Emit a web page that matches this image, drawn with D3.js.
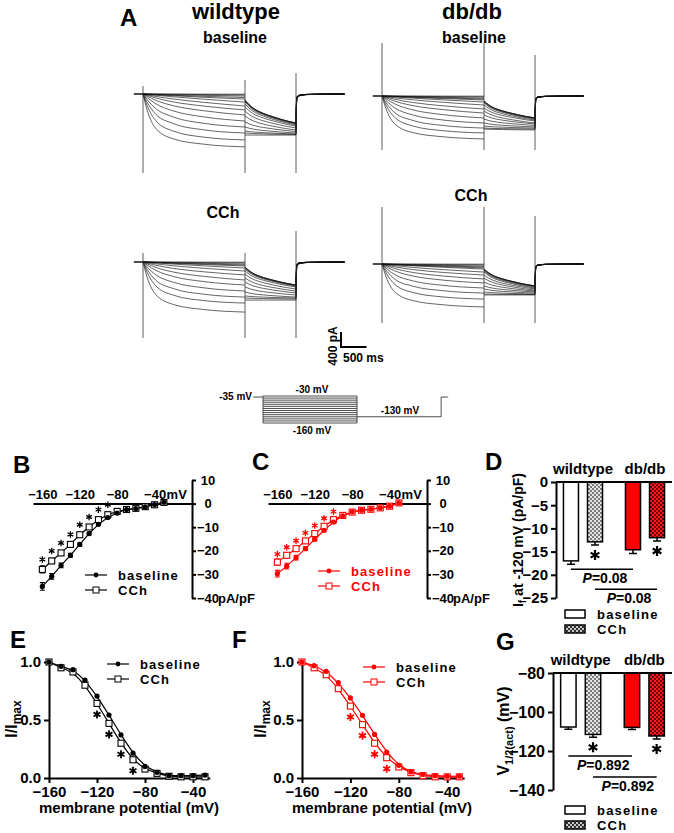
<!DOCTYPE html>
<html>
<head>
<meta charset="utf-8">
<script src="https://cdn.jsdelivr.net/npm/d3@7"></script>
<style>
  body { margin: 0; background: #fff; }
  text { font-family: "Liberation Sans", Arial, sans-serif; font-weight: bold; }
</style>
</head>
<body>
<div id="fig"></div>
<script>
const width = 674;
const height = 833;

// ---------- A: current traces (pA), one entry per sweep ----------
const sweepVolts = [-30, -40, -50, -60, -70, -80, -90, -100, -110, -120, -130, -140, -150, -160];
const stepTimes = [0, 80, 250, 600, 1200, 2000];
const actShape = [
  [0, 0.05, 0.15, 0.35, 0.65, 1],
  [0, 0.05, 0.15, 0.35, 0.65, 1],
  [0, 0.05, 0.15, 0.35, 0.65, 1],
  [0, 0.05, 0.15, 0.35, 0.65, 1],
  [0, 0.05, 0.15, 0.35, 0.65, 1],
  [0, 0.05, 0.15, 0.35, 0.65, 1],
  [0, 0.06, 0.2, 0.42, 0.7, 1],
  [0, 0.08, 0.25, 0.5, 0.76, 1],
  [0, 0.1, 0.3, 0.56, 0.8, 1],
  [0, 0.13, 0.36, 0.63, 0.85, 1],
  [0, 0.17, 0.44, 0.7, 0.89, 1],
  [0, 0.21, 0.52, 0.76, 0.92, 1],
  [0, 0.25, 0.58, 0.81, 0.94, 1],
  [0, 0.3, 0.65, 0.85, 0.95, 1]
];
const tailTimes = [0, 80, 160, 360, 550, 820, 1000];
const tailShape = [0, 0.2, 0.35, 0.58, 0.73, 0.91, 1];
const postTimes = [0, 15, 50, 200, 950];
const postShape = [0, 0.88, 0.95, 0.985, 1];

const wtBaseStepEnd = [-5, -25, -55, -95, -135, -215, -320, -425, -560, -720, -880, -1040, -1225, -1410];
const wtBaseTailStart = [-160, -160, -175, -185, -215, -265, -345, -455, -585, -745, -880, -985, -1040, -1095];
const wtBaseTailEnd = [-775, -775, -775, -785, -800, -825, -855, -905, -960, -1000, -1040, -1065, -1080, -1095];
const wtBaseSpikes = [[213, -2107], [373, -2107], [560, -2107]];

const dbBaseStepEnd = [-5, -25, -55, -80, -105, -160, -240, -345, -455, -585, -720, -855, -985, -1145];
const dbBaseTailStart = [-135, -135, -145, -160, -185, -240, -320, -400, -505, -615, -720, -800, -855, -880];
const dbBaseTailEnd = [-585, -585, -585, -600, -615, -640, -665, -720, -745, -785, -825, -855, -880, -905];
const dbBaseSpikes = [[1413, -1440], [1413, -1440], [1093, -1440]];

const wtCChStepEnd = [-5, -25, -55, -80, -105, -160, -240, -345, -480, -615, -775, -935, -1095, -1335];
const wtCChTailStart = [-135, -135, -145, -160, -185, -240, -320, -425, -535, -665, -800, -905, -960, -1015];
const wtCChTailEnd = [-615, -615, -615, -625, -640, -665, -720, -775, -825, -880, -935, -960, -985, -1015];
const wtCChSpikes = [[240, -2027], [240, -2027], [827, -2027]];

const dbCChStepEnd = [-5, -25, -55, -80, -105, -135, -215, -295, -400, -505, -640, -775, -935, -1145];
const dbCChTailStart = [-135, -135, -145, -160, -185, -215, -295, -375, -480, -585, -665, -745, -800, -825];
const dbCChTailEnd = [-585, -585, -585, -600, -615, -640, -665, -695, -720, -745, -775, -800, -815, -825];
const dbCChSpikes = [[1520, -1573], [1520, -1573], [1280, -1573]];

// voltage protocol (mV, ms)
const protoHold = -35;
const protoTail = -130;
const protoTimes = [-210, 0, 2000, 3790, 3940];

// ---------- B / C: I-V (pA/pF) ----------
const ivVolts = [-160, -150, -140, -130, -120, -110, -100, -90, -80, -70, -60, -50, -40, -30];
const wtIvBase = [-35.1, -30.8, -26.2, -21.9, -17.3, -12.7, -8.8, -5.9, -4.0, -2.5, -2.1, -1.4, -0.4, 0.6];
const wtIvBaseErr = [1.6, 1.2, 1.0, 0.8, 0.7, 0.6, 0.5, 0.4, 0.3, 0.2, 0.2, 0.2, 0.2, 0.2];
const wtIvCCh = [-27.9, -24.3, -20.9, -17.3, -13.2, -9.9, -6.8, -4.7, -3.3, -2.5, -2.0, -1.3, -0.5, 0.5];
const wtIvCChErr = [1.5, 1.1, 0.9, 0.8, 0.7, 0.6, 0.5, 0.4, 0.3, 0.2, 0.2, 0.2, 0.2, 0.2];
const wtIvStars = [-160, -150, -140, -130, -120, -110, -100, -90];

const dbIvBase = [-29.7, -26.5, -22.9, -19.1, -15.1, -11.3, -7.8, -5.2, -3.5, -2.8, -2.4, -1.8, -1.1, 0.3];
const dbIvBaseErr = [1.4, 1.2, 1.0, 0.8, 0.7, 0.6, 0.5, 0.4, 0.3, 0.2, 0.2, 0.2, 0.2, 0.2];
const dbIvCCh = [-24.8, -21.9, -19.1, -15.8, -12.7, -9.6, -6.8, -5.0, -3.6, -2.8, -2.4, -1.8, -1.1, 0.3];
const dbIvCChErr = [1.3, 1.1, 0.9, 0.8, 0.7, 0.6, 0.5, 0.4, 0.3, 0.2, 0.2, 0.2, 0.2, 0.2];
const dbIvStars = [-160, -150, -140, -130, -120, -110, -100];

// ---------- E / F: activation (I/Imax) ----------
const wtActBase = [1.0, 0.963, 0.934, 0.843, 0.706, 0.543, 0.371, 0.214, 0.10, 0.049, 0.02, 0.02, 0.02, 0.025];
const wtActCCh = [1.0, 0.95, 0.914, 0.80, 0.643, 0.471, 0.30, 0.157, 0.077, 0.04, 0.015, 0.01, 0.01, 0.01];
const dbActBase = [1.0, 0.968, 0.92, 0.822, 0.69, 0.54, 0.376, 0.224, 0.109, 0.052, 0.03, 0.02, 0.015, 0.015];
const dbActCCh = [1.0, 0.95, 0.89, 0.77, 0.62, 0.46, 0.30, 0.175, 0.095, 0.046, 0.02, 0.01, 0.01, 0.01];
const actStars = [-120, -110, -100, -90];

// ---------- D / G: bars ----------
const groups = ["wildtype", "db/db"];
const conds = ["baseline", "CCh"];
const ifWt = [-17.0, -12.9];
const ifWtErr = [0.7, 0.7];
const ifDb = [-14.6, -12.0];
const ifDbErr = [0.8, 0.7];
const ifP = ["0.08", "0.08"];
const vhWt = [-107.7, -111.5];
const vhWtErr = [1.2, 1.5];
const vhDb = [-107.9, -112.3];
const vhDbErr = [1.1, 1.5];
const vhP = ["0.892", "0.892"];

const red = "#ff0000";

const svg = d3.select("#fig").append("svg")
  .attr("width", width)
  .attr("height", height);

const defs = svg.append("defs");
function checker(id, light, dark) {
  const p = defs.append("pattern").attr("id", id)
    .attr("width", 4).attr("height", 4).attr("patternUnits", "userSpaceOnUse");
  p.append("rect").attr("width", 4).attr("height", 4).attr("fill", light);
  p.append("rect").attr("width", 2).attr("height", 2).attr("fill", dark);
  p.append("rect").attr("x", 2).attr("y", 2).attr("width", 2).attr("height", 2).attr("fill", dark);
}
checker("chkGrey", "#e6e6e6", "#7a7a7a");
checker("chkRed", "#ff1a1a", "#700000");
checker("chkLegend", "#c8c8c8", "#303030");

function label(x, y, txt, size, anchor) {
  return svg.append("text").attr("x", x).attr("y", y)
    .attr("text-anchor", anchor || "middle")
    .style("font-size", size + "px").text(txt);
}

// panel letters
label(120, 26, "A", 24, "start");
label(13, 473, "B", 24, "start");
label(252, 470, "C", 24, "start");
label(485, 470, "D", 24, "start");
label(10, 648, "E", 24, "start");
label(232, 648, "F", 24, "start");
label(496, 650, "G", 24, "start");

// ---------- A ----------
label(236, 19, "wildtype", 22);
label(235, 43, "baseline", 16);
label(472, 19, "db/db", 22);
label(474, 43, "baseline", 16);
label(223, 218, "CCh", 16);
label(471, 201, "CCh", 16);

const tScale = d3.scaleLinear().domain([0, 1000]).range([0, 51]);
const iScale = d3.scaleLinear().domain([0, -400]).range([0, 15]);
const stepDur = 2000, tailDur = 1000;

function drawTraces(x0, y0, stepEnd, tailStart, tailEnd, spikes) {
  const g = svg.append("g").attr("transform", `translate(${x0},${y0})`)
    .attr("fill", "none").attr("stroke", "#111").attr("stroke-width", 0.65);
  const line = d3.line().x(d => tScale(d[0])).y(d => iScale(d[1])).curve(d3.curveMonotoneX);
  g.append("path").attr("stroke-width", 1.5)
    .attr("d", d3.line().x(d => tScale(d[0])).y(d => iScale(d[1]))([[-180, 0], [0, 0]]));
  sweepVolts.forEach((v, i) => {
    const step = stepTimes.map((t, k) => [t, stepEnd[i] * actShape[i][k]]);
    const tail = tailTimes.map((t, k) => [stepDur + t, tailStart[i] + (tailEnd[i] - tailStart[i]) * tailShape[k]]);
    const post = postTimes.map((t, k) => [stepDur + tailDur + t, tailEnd[i] * (1 - postShape[k])]);
    g.append("path").attr("d", line(step));
    g.append("path").attr("d", line(tail));
    g.append("path").attr("d", line(post));
  });
  [0, stepDur, stepDur + tailDur].forEach((t, k) => {
    g.append("line").attr("stroke", "#333").attr("stroke-width", 0.8)
      .attr("x1", tScale(t)).attr("x2", tScale(t))
      .attr("y1", iScale(spikes[k][0])).attr("y2", iScale(spikes[k][1]));
  });
}
drawTraces(143, 94, wtBaseStepEnd, wtBaseTailStart, wtBaseTailEnd, wtBaseSpikes);
drawTraces(382, 96, dbBaseStepEnd, dbBaseTailStart, dbBaseTailEnd, dbBaseSpikes);
drawTraces(143, 262, wtCChStepEnd, wtCChTailStart, wtCChTailEnd, wtCChSpikes);
drawTraces(382, 264, dbCChStepEnd, dbCChTailStart, dbCChTailEnd, dbCChSpikes);

// scale bar: 400 pA, 500 ms
svg.append("polyline").attr("transform", "translate(341,347)")
  .attr("fill", "none").attr("stroke", "#000").attr("stroke-width", 2)
  .attr("points", `0,${-iScale(-400)} 0,0 ${tScale(500)},0`);
svg.append("text").attr("transform", "translate(337,346) rotate(-90)")
  .attr("text-anchor", "middle").style("font-size", "12px").text("400 pA");
label(343, 362, "500 ms", 12, "start");

// protocol
const px = d3.scaleLinear().domain([0, 2000]).range([263, 357]);
const pv = d3.scaleLinear().domain([-30, -160]).range([396, 423]);
const pg = svg.append("g").attr("fill", "none").attr("stroke", "#3a3a3a").attr("stroke-width", 0.9);
pg.append("polyline").attr("points",
  `${px(protoTimes[0])},${pv(protoHold)} ${px(protoTimes[1])},${pv(protoHold)}`);
sweepVolts.forEach(v => {
  pg.append("line").attr("x1", px(protoTimes[1])).attr("x2", px(protoTimes[2]))
    .attr("y1", pv(v)).attr("y2", pv(v));
});
[protoTimes[1], protoTimes[2]].forEach(t => {
  pg.append("line").attr("x1", px(t)).attr("x2", px(t))
    .attr("y1", pv(-30)).attr("y2", pv(-160));
});
pg.append("polyline").attr("points",
  `${px(protoTimes[2])},${pv(protoTail)} ${px(protoTimes[3])},${pv(protoTail)} ` +
  `${px(protoTimes[3])},${pv(protoHold)} ${px(protoTimes[4])},${pv(protoHold)}`);
label(252, 400, "-35 mV", 10, "end");
label(312, 393, "-30 mV", 10);
label(312, 434, "-160 mV", 10);
label(400, 414, "-130 mV", 10);

// ---------- helpers ----------
function star(g, x, y, size, color, sw) {
  g.append("path").attr("transform", `translate(${x},${y})`)
    .attr("d", d3.symbol(d3.symbolAsterisk, size)())
    .attr("fill", "none").attr("stroke", color).attr("stroke-width", sw);
}
function styleAxis(a, fontSize) {
  a.select(".domain").attr("stroke-width", 2);
  a.selectAll(".tick line").attr("stroke-width", 2);
  a.selectAll("text").style("font-size", fontSize + "px").attr("fill", "#000");
}
function legendRows(g, legX, legY, color, textColor) {
  [["baseline", 0], ["CCh", 15]].forEach(([name, dy], k) => {
    const ly = legY + dy;
    g.append("line").attr("x1", legX).attr("x2", legX + 22).attr("y1", ly).attr("y2", ly)
      .attr("stroke", color).attr("stroke-width", 1.2);
    if (k === 0) g.append("circle").attr("cx", legX + 11).attr("cy", ly).attr("r", 2.4).attr("fill", color);
    else g.append("rect").attr("x", legX + 8).attr("y", ly - 3).attr("width", 6).attr("height", 6)
      .attr("fill", "#fff").attr("stroke", color).attr("stroke-width", 1);
    g.append("text").attr("x", legX + 33).attr("y", ly).attr("dy", "0.36em")
      .style("font-size", "13px").style("letter-spacing", "1.1px").attr("fill", textColor).text(name);
  });
}

// ---------- B / C ----------
function drawIV(axisX, color, base, baseErr, cch, cchErr, stars, starOff, legX, legY) {
  const x = d3.scaleLinear().domain([-170, 0]).range([axisX - 159, axisX]);
  const y = d3.scaleLinear().domain([-40, 10]).range([598, 480]);
  const g = svg.append("g");

  const xa = g.append("g").attr("transform", `translate(0,${y(0)})`)
    .call(d3.axisTop(x).tickValues([-160, -120, -80, -40]).tickSize(0).tickSizeOuter(0).tickPadding(5));
  styleAxis(xa, 13);
  g.append("text").attr("x", x(-40) + 12).attr("y", y(0) - 5)
    .style("font-size", "13px").text("mV");

  const ya = g.append("g").attr("transform", `translate(${axisX},0)`)
    .call(d3.axisRight(y).tickValues([10, 0, -10, -20, -30, -40]).tickSize(4).tickSizeOuter(0).tickPadding(0));
  styleAxis(ya, 13);
  ya.selectAll("text").attr("x", 16).attr("text-anchor", "middle");
  g.append("text").attr("x", axisX + 26).attr("y", y(-40)).attr("dy", "0.35em")
    .style("font-size", "13px").text("pA/pF");

  const line = d3.line().x((d, i) => x(ivVolts[i])).y(d => y(d));
  g.append("path").attr("d", line(base)).attr("fill", "none").attr("stroke", color).attr("stroke-width", 1.2);
  g.append("path").attr("d", line(cch)).attr("fill", "none").attr("stroke", color).attr("stroke-width", 1.2);

  [[base, baseErr], [cch, cchErr]].forEach(([vals, errs]) => {
    vals.forEach((v, i) => {
      const cx = x(ivVolts[i]);
      g.append("path").attr("fill", "none").attr("stroke", color).attr("stroke-width", 1.1)
        .attr("d", `M${cx},${y(v + errs[i])}V${y(v - errs[i])}M${cx - 2.5},${y(v + errs[i])}H${cx + 2.5}M${cx - 2.5},${y(v - errs[i])}H${cx + 2.5}`);
    });
  });
  cch.forEach((v, i) => {
    g.append("rect").attr("x", x(ivVolts[i]) - 3).attr("y", y(v) - 3).attr("width", 6).attr("height", 6)
      .attr("fill", "#fff").attr("stroke", color).attr("stroke-width", 1.1);
  });
  base.forEach((v, i) => {
    g.append("circle").attr("cx", x(ivVolts[i])).attr("cy", y(v)).attr("r", 2.6).attr("fill", color);
  });
  stars.forEach(s => {
    const i = ivVolts.indexOf(s);
    star(g, x(s), y(cch[i]) - starOff, 30, color, 1.3);
  });
  legendRows(g, legX, legY, color, color);
}
drawIV(192, "#000", wtIvBase, wtIvBaseErr, wtIvCCh, wtIvCChErr, wtIvStars, 10, 85, 575);
drawIV(427, red, dbIvBase, dbIvBaseErr, dbIvCCh, dbIvCChErr, dbIvStars, 8, 318, 571);

// ---------- E / F ----------
function drawAct(axisX, pxPerMv, color, base, cch, legX, legY, yLabX) {
  const x = d3.scaleLinear().domain([-160, -26]).range([axisX, axisX + 134 * pxPerMv]);
  const y = d3.scaleLinear().domain([0, 1]).range([778, 662]);
  const g = svg.append("g");

  const xa = g.append("g").attr("transform", `translate(0,${y(0)})`)
    .call(d3.axisBottom(x).tickValues([-160, -120, -80, -40]).tickSize(5).tickSizeOuter(0).tickPadding(3));
  styleAxis(xa, 15);
  const ya = g.append("g").attr("transform", `translate(${axisX},0)`)
    .call(d3.axisLeft(y).tickValues([0, 0.5, 1]).tickFormat(d3.format(".1f")).tickSize(5).tickSizeOuter(0).tickPadding(3));
  styleAxis(ya, 15);

  g.append("text").attr("x", axisX + 80).attr("y", 813).attr("text-anchor", "middle")
    .style("font-size", "15px").text("membrane potential (mV)");
  const yl = g.append("text").attr("transform", `translate(${yLabX},719) rotate(-90)`)
    .attr("text-anchor", "middle").style("font-size", "16px");
  yl.append("tspan").text("I/I");
  yl.append("tspan").attr("dy", 4).style("font-size", "12px").text("max");

  const fit = d3.line().x((d, i) => x(ivVolts[i])).y(d => y(d)).curve(d3.curveBasis);
  [base, cch].forEach(vals => {
    g.append("path").attr("d", fit(vals)).attr("fill", "none").attr("stroke", color).attr("stroke-width", 1.2);
  });
  cch.forEach((v, i) => {
    g.append("rect").attr("x", x(ivVolts[i]) - 3).attr("y", y(v) - 3).attr("width", 6).attr("height", 6)
      .attr("fill", "#fff").attr("stroke", color).attr("stroke-width", 1.1);
  });
  base.forEach((v, i) => {
    g.append("circle").attr("cx", x(ivVolts[i])).attr("cy", y(v)).attr("r", 2.6).attr("fill", color);
  });
  actStars.forEach(s => {
    const i = ivVolts.indexOf(s);
    star(g, x(s), y(cch[i]) + 11, 45, color, 1.8);
  });
  legendRows(g, legX, legY, color, "#000");
}
drawAct(49, 1.2, "#000", wtActBase, wtActCCh, 107, 664, 17);
drawAct(302, 1.21, red, dbActBase, dbActCCh, 363, 667, 266);

// ---------- D / G ----------
function drawBars(axisX, domain, ticks, tickFont, wt, wtErr, db, dbErr, pvals, pLineVals, legY, titleY, yLabel) {
  const y = d3.scaleLinear().domain(domain).range(domain[1] === 0 ? [598, 482] : [790, 673]);
  const top = domain[1];
  const outer = d3.scaleBand().domain(groups).range([axisX, 672]).paddingInner(0.37).paddingOuter(0.12);
  const inner = d3.scaleBand().domain(conds).range([0, outer.bandwidth()]).paddingInner(0.375);
  const g = svg.append("g");
  const fills = [["#fff", "url(#chkGrey)"], [red, "url(#chkRed)"]];
  const vals = [wt, db], errs = [wtErr, dbErr];

  groups.forEach((grp, gi) => {
    label(outer(grp) + outer.bandwidth() / 2, titleY, grp, 15);
    conds.forEach((c, ci) => {
      const bx = outer(grp) + inner(c);
      const v = vals[gi][ci], e = errs[gi][ci];
      const cx = bx + inner.bandwidth() / 2;
      g.append("path").attr("fill", "none").attr("stroke", "#000").attr("stroke-width", 1.5)
        .attr("d", `M${cx},${y(v)}V${y(v - e)}M${cx - 4},${y(v - e)}H${cx + 4}`);
      g.append("rect").attr("x", bx).attr("y", y(top)).attr("width", inner.bandwidth())
        .attr("height", y(v) - y(top)).attr("fill", fills[gi][ci]).attr("stroke", "#000").attr("stroke-width", 1.5);
      if (c === "CCh") star(g, cx, y(v - e) + 10, 70, "#000", 2.2);
    });
  });

  const ya = g.append("g").attr("transform", `translate(${axisX},0)`)
    .call(d3.axisLeft(y).tickValues(ticks).tickSize(5).tickSizeOuter(0).tickPadding(3));
  styleAxis(ya, tickFont);
  g.append("line").attr("x1", axisX).attr("x2", 672).attr("y1", y(top)).attr("y2", y(top))
    .attr("stroke", "#000").attr("stroke-width", 2);

  conds.forEach((c, ci) => {
    const x1 = outer(groups[0]) + inner(c) + inner.bandwidth() / 2;
    const x2 = outer(groups[1]) + inner(c) + inner.bandwidth() / 2;
    const ly = y(pLineVals[ci]);
    g.append("line").attr("x1", x1).attr("x2", x2).attr("y1", ly).attr("y2", ly)
      .attr("stroke", "#000").attr("stroke-width", 1.5);
    const t = g.append("text").attr("x", (x1 + x2) / 2 + 3).attr("y", ly + 14)
      .attr("text-anchor", "middle").style("font-size", "14px");
    t.append("tspan").style("font-style", "italic").text("P");
    t.append("tspan").text("=" + pvals[ci]);
  });

  [["baseline", "#fff"], ["CCh", "url(#chkLegend)"]].forEach(([name, f], k) => {
    const ly = legY + k * 15;
    g.append("rect").attr("x", 565).attr("y", ly - 4).attr("width", 20).attr("height", 8)
      .attr("fill", f).attr("stroke", "#000").attr("stroke-width", 1.5);
    g.append("text").attr("x", 597).attr("y", ly).attr("dy", "0.36em")
      .style("font-size", "13px").style("letter-spacing", "1.2px").text(name);
  });
  yLabel(g);
}

drawBars(556, [-25, 0], [0, -5, -10, -15, -20, -25], 15, ifWt, ifWtErr, ifDb, ifDbErr, ifP, [-18.8, -23.1], 614, 474, g => {
  const t = g.append("text").attr("transform", "translate(523,540) rotate(-90)")
    .attr("text-anchor", "middle").style("font-size", "14px");
  t.append("tspan").text("I");
  t.append("tspan").attr("dy", 3).style("font-size", "10px").text("f");
  t.append("tspan").attr("dy", -3).text(" at -120 mV (pA/pF)");
});
drawBars(553, [-140, -80], [-80, -100, -120, -140], 16, vhWt, vhWtErr, vhDb, vhDbErr, vhP, [-122.6, -133.3], 810, 665, g => {
  const t = g.append("text").attr("transform", "translate(509,731) rotate(-90)")
    .attr("text-anchor", "middle").style("font-size", "16px");
  t.append("tspan").text("V");
  t.append("tspan").attr("dy", 4).style("font-size", "11px").text("1/2(act)");
  t.append("tspan").attr("dy", -4).text(" (mV)");
});
</script>
</body>
</html>
